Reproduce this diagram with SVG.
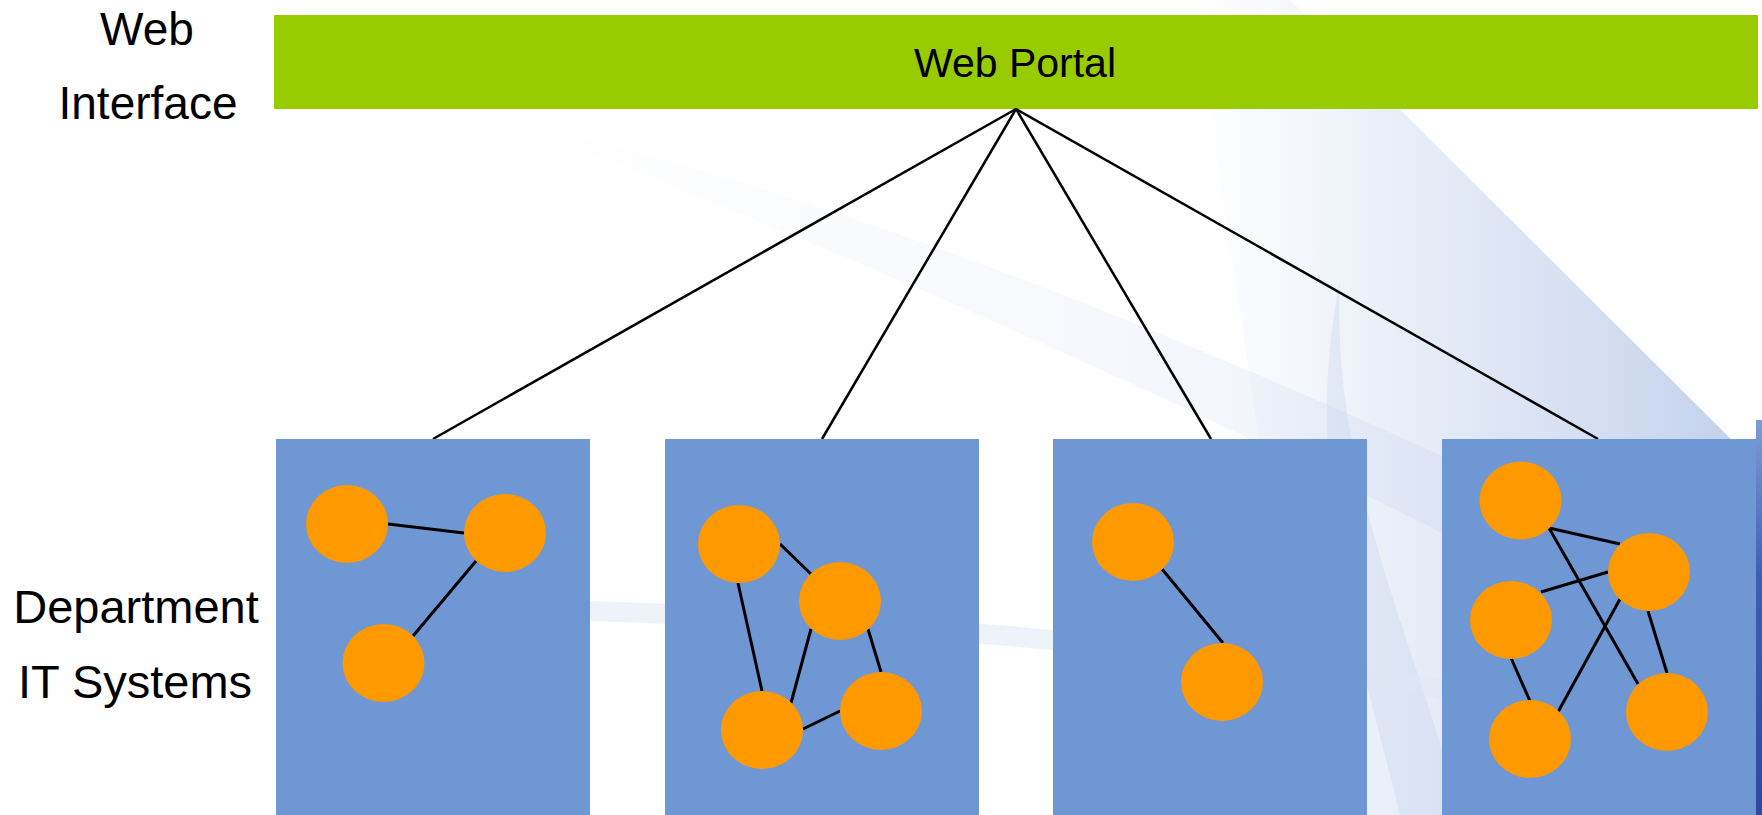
<svg xmlns="http://www.w3.org/2000/svg" width="1762" height="815" viewBox="0 0 1762 815">
<defs>
<style>
.lbl{font-family:"Liberation Sans",Arial,sans-serif;fill:#000;text-anchor:middle}
.box{fill:#6F97D4}
.dot{fill:#FF9900}
.edge{stroke:#000;stroke-width:3;stroke-linecap:butt;fill:none}
.conn{stroke:#000;stroke-width:2.5;fill:none}
</style>
<linearGradient id="gBig" x1="0" y1="0" x2="1" y2="0">
<stop offset="0" stop-color="#c6d4ee" stop-opacity="0"/>
<stop offset="0.5" stop-color="#c6d4ee" stop-opacity="0.55"/>
<stop offset="1" stop-color="#b4c6e8" stop-opacity="0.85"/>
</linearGradient>
<linearGradient id="gSw" x1="0" y1="0" x2="1" y2="0">
<stop offset="0" stop-color="#dfe7f6" stop-opacity="0"/>
<stop offset="0.6" stop-color="#cdd9f0" stop-opacity="0.5"/>
<stop offset="1" stop-color="#b8c9ea" stop-opacity="0.7"/>
</linearGradient>
<linearGradient id="gEdge" x1="0" y1="0" x2="0" y2="1">
<stop offset="0" stop-color="#7e9cd6"/>
<stop offset="0.4" stop-color="#3d5fb0"/>
<stop offset="1" stop-color="#2d4a9e"/>
</linearGradient>
</defs>
<rect width="1762" height="815" fill="#fff"/>
<g id="background">
<path d="M1290,0 L1762,470 L1762,815 L1250,815 C1320,600 1220,300 1200,0 Z" fill="url(#gBig)"/>
<path d="M470,108 C900,210 1300,380 1762,610 L1762,700 C1300,450 900,270 470,108 Z" fill="url(#gSw)" opacity="0.5"/>
<path d="M1340,280 C1330,480 1420,650 1460,815 L1400,815 C1360,650 1300,480 1340,280 Z" fill="#c5d3ee" opacity="0.35"/>
<path d="M560,600 C900,610 1200,640 1450,680 L1450,700 C1200,660 900,630 560,620 Z" fill="#dde5f5" opacity="0.5"/>
<rect x="1756" y="420" width="6" height="395" fill="url(#gEdge)"/>
</g>
<g id="labels">
<text class="lbl" x="147" y="45" font-size="46">Web</text>
<text class="lbl" x="148" y="119" font-size="46">Interface</text>
<text class="lbl" x="136" y="623" font-size="47">Department</text>
<text class="lbl" x="135" y="698" font-size="47">IT Systems</text>
</g>
<g id="web-portal">
<rect x="274" y="15" width="1484" height="94" fill="#99CC00"/>
<text class="lbl" x="1015" y="77" font-size="41">Web Portal</text>
</g>
<g id="connectors">
<line class="conn" x1="1016" y1="109" x2="433" y2="439"/>
<line class="conn" x1="1016" y1="109" x2="822" y2="439"/>
<line class="conn" x1="1016" y1="109" x2="1211" y2="439"/>
<line class="conn" x1="1016" y1="109" x2="1598" y2="439"/>
</g>
<g id="dept1">
<rect class="box" x="276" y="439" width="314" height="376"/>
<line class="edge" x1="388" y1="524" x2="464" y2="533"/>
<line class="edge" x1="476" y1="561" x2="413" y2="636"/>
<ellipse class="dot" cx="347" cy="524" rx="41" ry="39"/>
<ellipse class="dot" cx="505" cy="533" rx="41" ry="39"/>
<ellipse class="dot" cx="383.5" cy="663" rx="41" ry="39"/>
</g>
<g id="dept2">
<rect class="box" x="665" y="439" width="314" height="376"/>
<line class="edge" x1="780" y1="544" x2="811" y2="574"/>
<line class="edge" x1="738" y1="583" x2="762" y2="691"/>
<line class="edge" x1="811" y1="629" x2="791" y2="703"/>
<line class="edge" x1="868" y1="629" x2="881" y2="672"/>
<line class="edge" x1="803" y1="729" x2="840" y2="711"/>
<ellipse class="dot" cx="739" cy="544" rx="41" ry="39"/>
<ellipse class="dot" cx="840" cy="601" rx="41" ry="39"/>
<ellipse class="dot" cx="762" cy="730" rx="41" ry="39"/>
<ellipse class="dot" cx="881" cy="711" rx="41" ry="39"/>
</g>
<g id="dept3">
<rect class="box" x="1053" y="439" width="314" height="376"/>
<line class="edge" x1="1162" y1="569" x2="1223" y2="643"/>
<ellipse class="dot" cx="1133" cy="542" rx="41" ry="39"/>
<ellipse class="dot" cx="1222" cy="682" rx="41" ry="39"/>
</g>
<g id="dept4">
<rect class="box" x="1442" y="439" width="314" height="376"/>
<line class="edge" x1="1549" y1="528" x2="1620" y2="544"/>
<line class="edge" x1="1549" y1="528" x2="1638" y2="684"/>
<line class="edge" x1="1541" y1="592" x2="1608" y2="572"/>
<line class="edge" x1="1511" y1="658" x2="1530" y2="701"/>
<line class="edge" x1="1558" y1="712" x2="1620" y2="599"/>
<line class="edge" x1="1648" y1="611" x2="1667" y2="673"/>
<ellipse class="dot" cx="1520.5" cy="500.5" rx="41" ry="39"/>
<ellipse class="dot" cx="1649" cy="572" rx="41" ry="39"/>
<ellipse class="dot" cx="1511" cy="620" rx="41" ry="39"/>
<ellipse class="dot" cx="1530" cy="739" rx="41" ry="39"/>
<ellipse class="dot" cx="1667" cy="712" rx="41" ry="39"/>
</g>
</svg>
